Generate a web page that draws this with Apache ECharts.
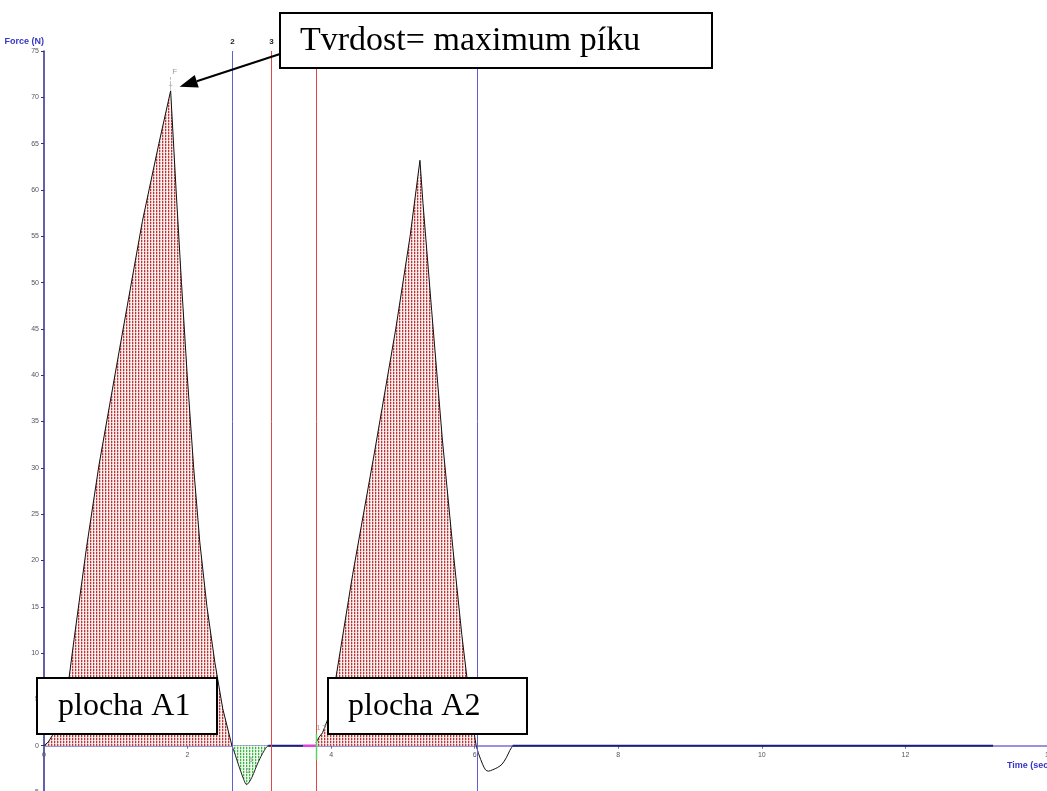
<!DOCTYPE html>
<html>
<head>
<meta charset="utf-8">
<script src="https://cdn.jsdelivr.net/npm/echarts@6.0.0/dist/echarts.min.js"></script>
<style>
  html, body { margin: 0; padding: 0; background: #ffffff; }
  #chart { width: 1047px; height: 791px; }
</style>
</head>
<body>
<div id="chart"></div>
<script>
// Force (N) against time (sec) for a two-bite compression test.

// First compression: rise to the hardness peak and return to zero
const cycle1Time  = [0, 0.06, 0.116, 0.2, 0.35, 0.419, 0.594, 0.766, 1.068, 1.37, 1.6, 1.764, 1.84, 1.915, 1.995, 2.085, 2.17, 2.27, 2.38, 2.49, 2.618];
const cycle1Force = [0, 0.4, 1.1, 3.5, 7.4, 11.5, 21.5, 30.3, 43.5, 56.6, 65.0, 70.7, 60.0, 50.0, 40.0, 30.0, 22.0, 15.0, 9.0, 4.0, 0];

// Negative (adhesive) area after the first compression
const dip1Time  = [2.618, 2.66, 2.715, 2.77, 2.823, 2.87, 2.92, 2.96, 3.02, 3.07, 3.1, 3.124];
const dip1Force = [0, -0.9, -2.2, -3.4, -4.2, -3.8, -3.0, -2.2, -1.2, -0.5, -0.15, 0];

// Pause between the two compressions
const restTime  = [3.124, 3.61];
const restForce = [0, 0];
const triggerTime  = [3.61, 3.788];
const triggerForce = [0, 0];

// Second compression
const cycle2Time  = [3.788, 3.83, 3.88, 3.95, 4.02, 4.07, 4.3, 4.6, 4.9, 5.1, 5.237, 5.28, 5.4, 5.55, 5.7, 5.82, 5.92, 5.98, 6.02];
const cycle2Force = [0.3, 0.9, 1.4, 2.8, 5.2, 7.5, 18.5, 31.5, 45.0, 55.0, 63.2, 58.5, 47.0, 33.0, 21.0, 12.0, 5.5, 2.0, 0];

// Small negative swing after the second compression
const dip2Time  = [6.02, 6.06, 6.11, 6.15, 6.19, 6.25, 6.32, 6.38, 6.44, 6.49, 6.53];
const dip2Force = [0, -1.0, -2.0, -2.6, -2.75, -2.6, -2.35, -2.0, -1.3, -0.5, 0];

// Flat trace to the end of the run
const tailTime  = [6.53, 13.22];
const tailForce = [0, 0];

// Vertical cursors (time, label)
const cursorTimes  = [2.618, 3.161, 3.788, 6.03];
const cursorLabels = ['2', '3', '', ''];
const cursorColors = ['#5f5fd0', '#e04848', '#e04848', '#5f5fd0'];

// Axis scales
const timeMin = 0, timeMax = 14, timeStep = 2;
const forceMin = -5, forceMax = 75, forceStep = 5;

// Annotation texts
const hardnessText = 'Tvrdost= maximum píku';
const area1Text = 'plocha A1';
const area2Text = 'plocha A2';

const pairs = (ts, fs) => ts.map((t, i) => [t, fs[i]]);

// Dotted hatch tile used for the filled areas
function hatchTile(dark, mid, light, bg) {
  const c = document.createElement('canvas');
  c.width = 3; c.height = 3;
  const g = c.getContext('2d');
  g.fillStyle = bg; g.fillRect(0, 0, 3, 3);
  g.fillStyle = light; g.fillRect(1, 0, 1, 2);
  g.fillStyle = mid; g.fillRect(0, 2, 1, 1);
  g.fillStyle = dark; g.fillRect(0, 0, 1, 2);
  return c;
}
const redHatch = { image: hatchTile('#b83838', '#e7b6b6', '#eab4b4', '#fbf0f0'), repeat: 'repeat' };
const greenHatch = { image: hatchTile('#3fb548', '#c9ecc9', '#bfe8c0', '#f0fbf0'), repeat: 'repeat' };

let peakIdx = 0;
cycle1Force.forEach((f, i) => { if (f > cycle1Force[peakIdx]) peakIdx = i; });
const peakPoint = [cycle1Time[peakIdx], cycle1Force[peakIdx]];
let dipIdx = 0;
dip1Force.forEach((f, i) => { if (f < dip1Force[dipIdx]) dipIdx = i; });
const dipPoint = [dip1Time[dipIdx], dip1Force[dipIdx]];
const startPoint = [cycle2Time[0], 0];

const labelFont = '"Liberation Sans", Arial, sans-serif';
const serifFont = '"Liberation Serif", "Times New Roman", serif';

// Plot area; the time axis sits on the zero-force line
const gridTop = 51, gridBottom = -1, chartHeight = 791;
const plotHeight = chartHeight - gridTop - gridBottom;
const timeAxisOffset = -plotHeight * (0 - forceMin) / (forceMax - forceMin);

const traceLine = (name, data, color, width, extra) => Object.assign({
  type: 'line', name, data, symbol: 'none', showSymbol: false, animation: false,
  lineStyle: { color, width }, z: 3
}, extra || {});

const chart = echarts.init(document.getElementById('chart'), null, { renderer: 'canvas' });

const option = {
  backgroundColor: '#ffffff',
  animation: false,
  grid: { left: 44, right: -2, top: gridTop, bottom: gridBottom, containLabel: false, outerBoundsMode: 'none' },
  xAxis: {
    type: 'value', min: timeMin, max: timeMax, interval: timeStep,
    position: 'bottom', offset: timeAxisOffset,
    axisLine: { show: true, onZero: false, lineStyle: { color: '#7a70cf', width: 1.5 } },
    axisTick: { show: true, length: 3, lineStyle: { color: '#6a6a9a' } },
    axisLabel: { fontSize: 7, color: '#555555', margin: 6, fontFamily: labelFont },
    splitLine: { show: false }
  },
  yAxis: {
    type: 'value', min: forceMin, max: forceMax, interval: forceStep,
    name: 'Force (N)', nameLocation: 'end', nameGap: 5,
    nameTextStyle: { color: '#3535c8', fontWeight: 'bold', fontSize: 9, fontFamily: labelFont, align: 'right', verticalAlign: 'bottom' },
    axisLine: { show: true, onZero: false, lineStyle: { color: '#2e2e8e', width: 1.5 } },
    axisTick: { show: true, length: 3, lineStyle: { color: '#2e2e8e' } },
    axisLabel: { fontSize: 7, color: '#555555', margin: 5, fontFamily: labelFont },
    splitLine: { show: false }
  },
  series: [
    traceLine('cycle1', pairs(cycle1Time, cycle1Force), '#111111', 1,
      { areaStyle: { color: redHatch, opacity: 1, origin: 0 } }),
    traceLine('dip1', pairs(dip1Time, dip1Force), '#222222', 1,
      { smooth: 0.3, areaStyle: { color: greenHatch, opacity: 1, origin: 0 } }),
    traceLine('rest', pairs(restTime, restForce), '#1d1d7e', 2),
    traceLine('trigger', pairs(triggerTime, triggerForce), '#e040e0', 2.5),
    traceLine('cycle2', pairs(cycle2Time, cycle2Force), '#111111', 1,
      { areaStyle: { color: redHatch, opacity: 1, origin: 0 } }),
    traceLine('dip2', pairs(dip2Time, dip2Force), '#111111', 1, { smooth: 0.3 }),
    traceLine('tail', pairs(tailTime, tailForce), '#1d1d7e', 2),
    {
      type: 'custom', name: 'cursors', z: 4, clip: false,
      data: cursorTimes.map(t => [t, forceMax]),
      renderItem(params, api) {
        const i = params.dataIndex;
        const top = api.coord([api.value(0), forceMax]);
        const bottom = api.coord([api.value(0), forceMin]);
        const x = Math.round(top[0]) + 0.5;
        const children = [{
          type: 'line',
          shape: { x1: x, y1: top[1], x2: x, y2: bottom[1] },
          style: { stroke: cursorColors[i], lineWidth: 1 }
        }];
        if (cursorLabels[i]) {
          children.push({
            type: 'text', x: x, y: top[1] - 9,
            style: { text: cursorLabels[i], fill: '#222222', font: 'bold 8px ' + labelFont, align: 'center', verticalAlign: 'middle' }
          });
        }
        return { type: 'group', children };
      }
    },
    {
      type: 'custom', name: 'peakMarker', z: 5, clip: false,
      data: [peakPoint],
      renderItem(params, api) {
        const p = api.coord([api.value(0), api.value(1)]);
        const st = { fill: '#9a9a9a', font: '8px ' + labelFont, align: 'center', verticalAlign: 'middle' };
        return { type: 'group', children: [
          { type: 'text', x: p[0] + 4, y: p[1] - 19, style: Object.assign({ text: 'F' }, st) },
          { type: 'text', x: p[0], y: p[1] - 11, style: Object.assign({ text: '¦' }, st) },
          { type: 'text', x: p[0], y: p[1] - 4, style: Object.assign({ text: '†' }, st) }
        ] };
      }
    },
    {
      type: 'custom', name: 'dipMarker', z: 5, clip: false,
      data: [dipPoint],
      renderItem(params, api) {
        const p = api.coord([api.value(0), api.value(1)]);
        const st = { fill: '#9a9a9a', font: '7px ' + labelFont, align: 'center', verticalAlign: 'middle' };
        return { type: 'group', children: [
          { type: 'text', x: p[0] + 4, y: p[1] - 25, style: Object.assign({ text: '5' }, st) },
          { type: 'text', x: p[0] + 1, y: p[1] - 14, style: Object.assign({ text: '6' }, st) }
        ] };
      }
    },
    {
      type: 'custom', name: 'startMarker', z: 5, clip: false,
      data: [startPoint],
      renderItem(params, api) {
        const p = api.coord([api.value(0), api.value(1)]);
        const st = { fill: '#9a9a9a', font: '7px ' + labelFont, align: 'center', verticalAlign: 'middle' };
        const x = Math.round(p[0]) + 0.5;
        return { type: 'group', children: [
          { type: 'line', shape: { x1: x, y1: p[1] - 12, x2: x, y2: p[1] + 14 },
            style: { stroke: '#5fd35f', lineWidth: 1.5 } },
          { type: 'text', x: x + 2, y: p[1] - 18, style: Object.assign({ text: '1' }, st) },
          { type: 'text', x: x + 8, y: p[1] - 18, style: Object.assign({ text: 'T' }, st) }
        ] };
      }
    }
  ]
};

chart.setOption(option);

// Annotation boxes and the arrow pointing at the hardness peak
const peakPx = chart.convertToPixel({ gridIndex: 0 }, peakPoint);
const tip = [peakPx[0] + 9, peakPx[1] - 4];
const start = [280, 54];
const dx = tip[0] - start[0], dy = tip[1] - start[1];
const len = Math.hypot(dx, dy);
const ux = dx / len, uy = dy / len;
const headLen = 18, headHalf = 6.5;
const base = [tip[0] - ux * headLen, tip[1] - uy * headLen];
const nx = -uy, ny = ux;

const boxStyle = { fill: '#ffffff', stroke: '#000000', lineWidth: 2 };

chart.setOption({
  graphic: { elements: [
    { type: 'line', z: 100, shape: { x1: start[0], y1: start[1], x2: base[0], y2: base[1] },
      style: { stroke: '#000000', lineWidth: 2 } },
    { type: 'polygon', z: 100,
      shape: { points: [tip, [base[0] + nx * headHalf, base[1] + ny * headHalf], [base[0] - nx * headHalf, base[1] - ny * headHalf]] },
      style: { fill: '#000000' } },
    { type: 'rect', z: 101, shape: { x: 280, y: 13, width: 432, height: 55 }, style: boxStyle },
    { type: 'text', z: 102, x: 300, y: 41,
      style: { text: hardnessText, fill: '#000000', font: '34px ' + serifFont, verticalAlign: 'middle' } },
    { type: 'rect', z: 101, shape: { x: 37, y: 678, width: 180, height: 56 }, style: boxStyle },
    { type: 'text', z: 102, x: 58, y: 707,
      style: { text: area1Text, fill: '#000000', font: '32px ' + serifFont, verticalAlign: 'middle' } },
    { type: 'rect', z: 101, shape: { x: 328, y: 678, width: 199, height: 56 }, style: boxStyle },
    { type: 'text', z: 102, x: 348, y: 707,
      style: { text: area2Text, fill: '#000000', font: '32px ' + serifFont, verticalAlign: 'middle' } },
    { type: 'text', z: 100, x: 1007, y: 766,
      style: { text: 'Time (sec)', fill: '#3535c8', font: 'bold 9px ' + labelFont, verticalAlign: 'middle' } }
  ] }
});
</script>
</body>
</html>
